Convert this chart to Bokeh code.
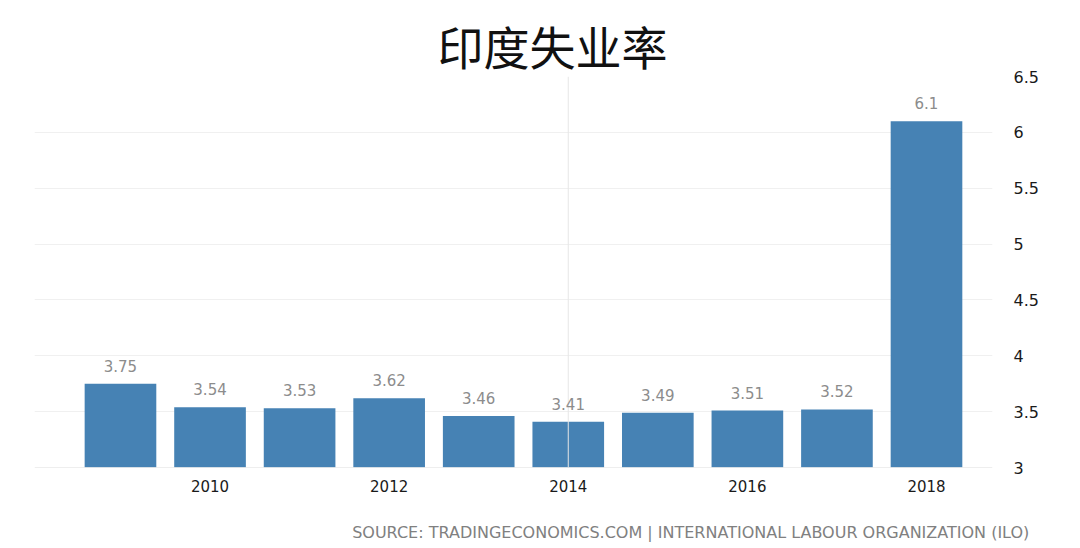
from bokeh.plotting import figure
from bokeh.models import ColumnDataSource, FixedTicker, LabelSet, LinearAxis, Span, Range1d
from bokeh.core.properties import value
from bokeh.embed import file_html
from bokeh.resources import INLINE

years = [2009, 2010, 2011, 2012, 2013, 2014, 2015, 2016, 2017, 2018]
rates = [3.75, 3.54, 3.53, 3.62, 3.46, 3.41, 3.49, 3.51, 3.52, 6.1]
rate_labels = ["3.75", "3.54", "3.53", "3.62", "3.46", "3.41", "3.49", "3.51", "3.52", "6.1"]
x_ticks = [2010, 2012, 2014, 2016, 2018]
y_ticks = [3, 3.5, 4, 4.5, 5, 5.5, 6, 6.5]
title_text = "印度失业率"
source_text = "SOURCE: TRADINGECONOMICS.COM | INTERNATIONAL LABOUR ORGANIZATION (ILO)"
hover_year = 2014

src = ColumnDataSource(dict(year=years, rate=rates, label=rate_labels))

p = figure(width=1076, height=544,
           x_range=Range1d(2008.04, 2018.737), y_range=Range1d(3, 6.5),
           y_axis_location="right", toolbar_location=None, output_backend="svg",
           min_border_left=34, min_border_right=84, min_border_top=76, min_border_bottom=77)
p.outline_line_color = None
p.background_fill_color = "white"

p.title.text = title_text
p.title.align = "left"
p.title.offset = 403
p.title.standoff = -3
p.title.text_font = "Noto Sans CJK SC"
p.title.text_font_size = "46px"
p.title.text_font_style = "normal"
p.title.text_color = "#111111"

p.add_layout(Span(location=hover_year, dimension="height", line_color="#e6e6e6", line_width=1))

p.vbar(x="year", top="rate", bottom=3, width=0.8, source=src,
       fill_color="#4682b4", line_color=None)

p.add_layout(LabelSet(x="year", y="rate", text="label", source=src,
                      text_align="center", text_baseline="bottom", y_offset=12,
                      text_font=value("DejaVu Sans"), text_font_size="15px", text_color="#8c8c8c"))

p.add_layout(Span(location=3, dimension="width", line_color="#dddddd", line_width=1))

p.xgrid.grid_line_color = None
p.ygrid.ticker = FixedTicker(ticks=y_ticks)
p.ygrid.grid_line_color = "#f0f0f0"

# second bottom axis used only to carry the source note (one tick, overridden label)
p.extra_x_ranges = {"note": Range1d(0, 1000)}
note_axis = LinearAxis(x_range_name="note", ticker=FixedTicker(ticks=[685]),
                       major_label_overrides={685: source_text})
p.add_layout(note_axis, "below")

def style_axis(ax):
    ax.axis_line_color = None
    ax.major_tick_line_color = None
    ax.minor_tick_line_color = None
    ax.major_tick_in = 0
    ax.major_tick_out = 0
    ax.minor_tick_in = 0
    ax.minor_tick_out = 0
    ax.major_label_text_font = "DejaVu Sans"
    ax.major_label_text_color = "#1a1a1a"

style_axis(p.xaxis[0])
style_axis(p.yaxis[0])
style_axis(note_axis)

p.xaxis[0].ticker = FixedTicker(ticks=x_ticks)
p.xaxis[0].major_label_standoff = 12
p.xaxis[0].major_label_text_font_size = "15px"

note_axis.major_label_standoff = 28
note_axis.major_label_text_font_size = "16px"
note_axis.major_label_text_color = "#808080"

p.yaxis.ticker = FixedTicker(ticks=y_ticks)
p.yaxis.major_label_standoff = 21
p.yaxis.major_label_text_font_size = "16px"

open("out.html", "w").write(file_html(p, INLINE))
